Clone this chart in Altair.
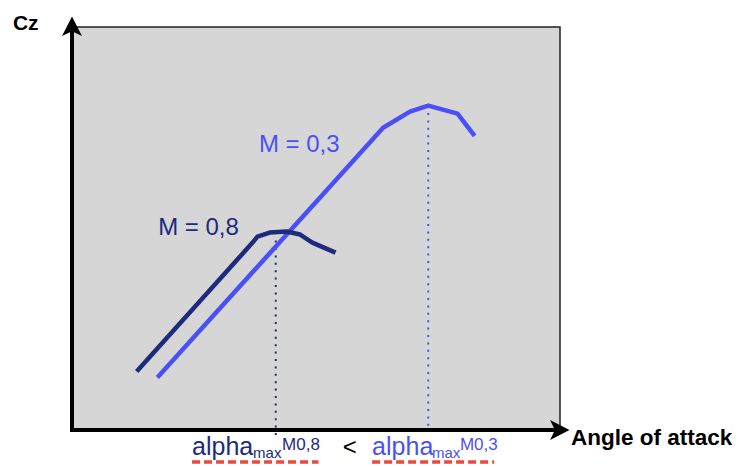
import altair as alt
import pandas as pd

# ---- data (arbitrary units: angle of attack in deg, Cz) ----
m03_alpha = [3.5, 12.75, 13.85, 14.6, 15.8, 16.5]
m03_cz = [0.26, 1.50, 1.58, 1.61, 1.57, 1.46]
m08_alpha = [2.65, 7.4, 7.6, 8.1, 8.8, 9.35, 9.85, 10.8]
m08_cz = [0.29, 0.93, 0.96, 0.98, 0.985, 0.97, 0.93, 0.88]
alpha_max_m03 = 14.6
alpha_max_m08 = 8.35
dot_top = [1.61, 0.94]
dot_bottom = [0.0, -0.03]
box_alpha = [0, 20]
box_cz = [0, 2]

BLUE = "#4a50f8"
NAVY = "#1e2a7c"
RED = "#ea4a3c"
GREY = "#d6d6d6"
FONT = "Liberation Sans"

xs = alt.Scale(domain=[-2.623, 27.213], nice=False, zero=False)
ys = alt.Scale(domain=[-0.1836, 2.0943], nice=False, zero=False)


def X(f="a"):
    return alt.X(f"{f}:Q", scale=xs, axis=None)


def Y(f="c"):
    return alt.Y(f"{f}:Q", scale=ys, axis=None)


box = alt.Chart(pd.DataFrame({"a": [box_alpha[0]], "a2": [box_alpha[1]],
                              "c": [box_cz[0]], "c2": [box_cz[1]]})).mark_rect(
    fill=GREY, stroke="#222222", strokeWidth=1.5
).encode(x=X(), x2="a2:Q", y=Y(), y2="c2:Q")

yaxis = alt.Chart(pd.DataFrame({"a": [0], "c": [-0.01], "c2": [1.99]})).mark_rule(
    color="black", strokeWidth=4
).encode(x=X(), y=Y(), y2="c2:Q")
xaxis = alt.Chart(pd.DataFrame({"a": [-0.08], "a2": [19.9], "c": [0]})).mark_rule(
    color="black", strokeWidth=4
).encode(x=X(), x2="a2:Q", y=Y())

up_arrow = alt.Chart(pd.DataFrame({"a": [0], "c": [2.0]})).mark_point(
    shape="M0,-1L0.95,0.85L0,0.4L-0.95,0.85Z", filled=True, size=440,
    color="black", opacity=1, strokeWidth=0
).encode(x=X(), y=Y())
right_arrow = alt.Chart(pd.DataFrame({"a": [19.96], "c": [0]})).mark_point(
    shape="M1,0L-0.85,0.95L-0.4,0L-0.85,-0.95Z", filled=True, size=440,
    color="black", opacity=1, strokeWidth=0
).encode(x=X(), y=Y())

dots = alt.Chart(pd.DataFrame({
    "a": [alpha_max_m03, alpha_max_m08],
    "c": dot_top, "c2": dot_bottom, "col": [BLUE, NAVY]})).mark_rule(
    strokeWidth=2, strokeDash=[2, 5.4]
).encode(x=X(), y=Y(), y2="c2:Q", color=alt.Color("col:N", scale=None))

curves = pd.concat([
    pd.DataFrame({"a": m03_alpha, "c": m03_cz, "s": "M = 0,3",
                  "o": range(len(m03_alpha))}),
    pd.DataFrame({"a": m08_alpha, "c": m08_cz, "s": "M = 0,8",
                  "o": range(len(m08_alpha))}),
])
lines = alt.Chart(curves).mark_line(strokeWidth=4.5, strokeJoin="round",
                                     strokeCap="butt").encode(
    x=X(), y=Y(), detail="s:N", order="o:Q",
    color=alt.Color("s:N", scale=alt.Scale(domain=["M = 0,3", "M = 0,8"],
                                           range=[BLUE, NAVY]), legend=None)
)

labels = pd.DataFrame({
    "a": [7.66, 3.53, 4.92, 7.42, 8.61, 11.1, 12.3, 14.75, 15.9],
    "c": [1.38, 0.968, -0.124, -0.139, -0.099, -0.124, -0.124, -0.139, -0.099],
    "t": ["M = 0,3", "M = 0,8", "alpha", "max", "M0,8", "<", "alpha", "max", "M0,3"],
    "fs": [24, 24, 25, 15, 17, 24, 25, 15, 17],
    "col": [BLUE, NAVY, NAVY, NAVY, NAVY, "black", BLUE, BLUE, BLUE],
})
texts = alt.Chart(labels).mark_text(align="left", baseline="alphabetic",
                                    font=FONT).encode(
    x=X(), y=Y(), text="t:N",
    size=alt.Size("fs:Q", scale=None),
    color=alt.Color("col:N", scale=None))

bold = pd.DataFrame({"a": [-2.42, 20.45], "c": [1.985, -0.074],
                     "t": ["Cz", "Angle of attack"], "fs": [21, 22.5]})
bold_texts = alt.Chart(bold).mark_text(align="left", baseline="alphabetic",
                                       font=FONT, fontWeight="bold",
                                       color="black").encode(
    x=X(), y=Y(), text="t:N", size=alt.Size("fs:Q", scale=None))

underl = alt.Chart(pd.DataFrame({"a": [4.92, 12.3], "a2": [10.1, 17.3],
                                 "c": [-0.159, -0.159]})).mark_rule(
    color=RED, strokeWidth=3.5, strokeDash=[8, 4]
).encode(x=X(), x2="a2:Q", y=Y())

chart = alt.layer(box, dots, lines, yaxis, xaxis, up_arrow, right_arrow,
                  texts, bold_texts, underl).properties(
    width=728, height=459, padding=0, background="white",
    autosize=alt.AutoSizeParams(type="none")
).configure_view(stroke=None)

chart.save("out.html", embed_options={"renderer": "svg", "actions": False})
